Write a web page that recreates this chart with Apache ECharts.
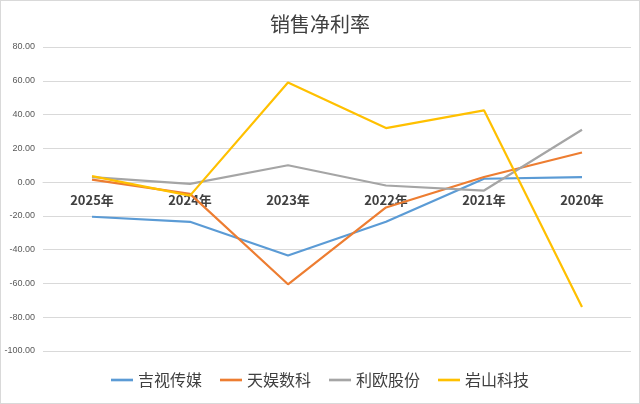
<!DOCTYPE html>
<html lang="zh">
<head>
<meta charset="UTF-8">
<title>销售净利率</title>
<script src="https://cdn.jsdelivr.net/npm/echarts@6/dist/echarts.min.js"></script>
<style>body{margin:0}#main{width:638px;height:402px;border:1px solid #d9d9d9}</style>
</head>
<body>
<div id="main"></div>
<script>
var years = ['2025年', '2024年', '2023年', '2022年', '2021年', '2020年'];
var jishi = [-20.5, -23.5, -43.5, -23.5, 2, 3];
var tianyu = [1.5, -7, -60.5, -15, 3, 17.5];
var liou = [3, -1, 10, -2, -5, 31];
var yanshan = [3.5, -8, 59, 32, 42.5, -74];

var names = ['吉视传媒', '天娱数科', '利欧股份', '岩山科技'];
var colors = ['#5b9bd5', '#ed7d31', '#a5a5a5', '#ffc000'];
var data = [jishi, tianyu, liou, yanshan];

var chart = echarts.init(document.getElementById('main'));
chart.setOption({
    color: colors,
    title: {text: '销售净利率', left: 'center', top: 8,
        textStyle: {fontSize: 20, fontWeight: 'normal', color: '#404040', fontFamily: 'Noto Sans CJK SC'}},
    legend: {bottom: 10, itemWidth: 22, itemGap: 18, icon: 'path://M0,0 L1,0 L1,0.12 L0,0.12 Z',
        textStyle: {fontSize: 16, color: '#404040', fontFamily: 'Noto Sans CJK SC'}, data: names},
    grid: {left: 42, right: 8, top: 46, bottom: 52},
    xAxis: {type: 'category', data: years,
        axisLine: {onZero: true, lineStyle: {color: '#d9d9d9'}},
        axisTick: {show: false},
        axisLabel: {fontSize: 13, fontWeight: 'bold', color: '#404040', margin: -157, fontFamily: 'Noto Sans CJK SC'}},
    yAxis: {type: 'value', min: -100, max: 80, interval: 20,
        axisLabel: {fontSize: 9, color: '#595959', formatter: function (v) { return v.toFixed(2); }},
        splitLine: {lineStyle: {color: '#d9d9d9'}}},
    series: names.map(function (n, i) {
        return {name: n, type: 'line', data: data[i], symbol: 'none', lineStyle: {width: 2.2}};
    })
});
</script>
</body>
</html>
